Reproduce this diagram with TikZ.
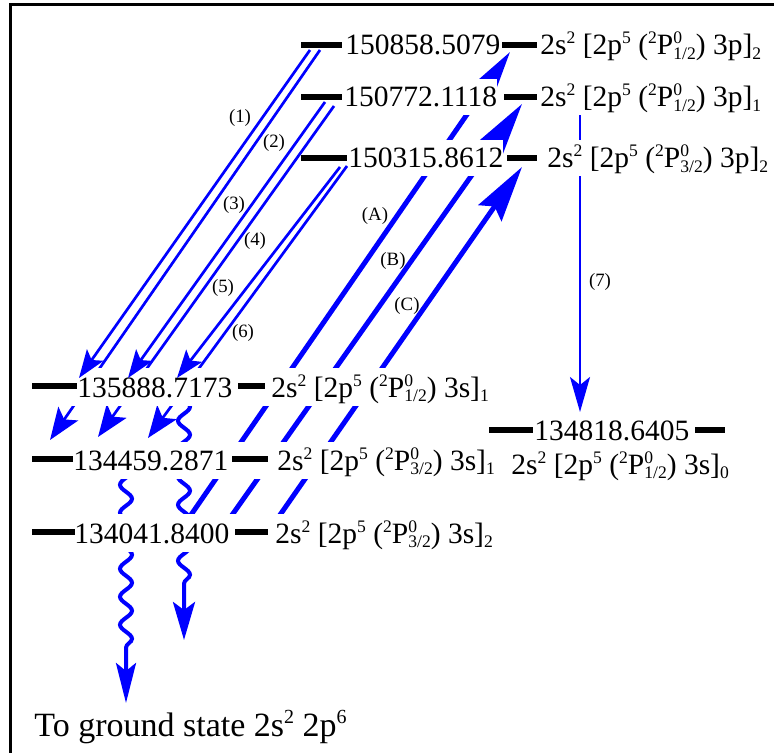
\documentclass[tikz,border=0pt]{standalone}
\usepackage{fontspec}
\setmainfont{Liberation Serif}
\usetikzlibrary{arrows.meta,decorations.pathmorphing}
\newcommand{\sups}[1]{\raisebox{5.5pt}{\fontsize{8.8}{10}\selectfont #1}}
\newcommand{\subs}[1]{\raisebox{-2.2pt}{\fontsize{8.8}{10}\selectfont #1}}
\newcommand{\Pterm}[1]{\sups{2}P\rlap{\sups{0}}\subs{#1}}
\newcommand{\cfg}[3]{2s\sups{2} [2p\sups{5} (\Pterm{#1}) #2]\subs{#3}}
\begin{document}
\begin{tikzpicture}[x=0.5pt, y=-0.5pt,
  bar/.style={line width=3pt, black},
  val/.style={anchor=base west, inner sep=0pt, text height=14pt, text depth=4pt, font=\fontsize{14.75}{16}\selectfont},
  wval/.style={val, fill=white},
  num/.style={font=\fontsize{9.4}{10}\selectfont, inner sep=0pt},
  thinarrow/.style={blue, line width=1.35pt, -{Stealth[length=14pt,width=10pt,inset=3pt]}},
  thinarrowb/.style={blue, line width=1.35pt, -{Stealth[length=16pt,width=12pt,inset=3.5pt]}},
  thickarrow/.style={blue, line width=2.5pt, -{Stealth[length=28pt,width=14pt,inset=4pt]}},
  vertarrow/.style={blue, line width=1.2pt, -{Stealth[length=17.5pt,width=10pt,inset=4pt]}},
  wavyarrow/.style={blue, line width=2pt, decorate, decoration={snake, amplitude=3pt, segment length=14pt, post length=#1}},
  rowfill/.style={fill=white}
]
\useasboundingbox (0,0) rectangle (774,753);
% frame
\draw[line width=1.4pt] (774,4.7) -- (10.7,4.7) -- (10.7,753);

% top row 150858
\node[wval] (v1) at (345,55) {150858.5079};
\node[wval] (c1) at (540,55) {\cfg{1/2}{3p}{2}};
\draw[bar] (301,45) -- (342,45);
\draw[bar] (502,45) -- (537,45);

% coordinates of arrow ends
\coordinate (r1s) at (320,50); \coordinate (r1e) at (50,440);
\coordinate (r2s) at (334,106); \coordinate (r2e) at (98,437);
\coordinate (r3s) at (347,166); \coordinate (r3e) at (148,438);
\coordinate (l1s) at (310,50); \coordinate (l1e) at (79,378);
\coordinate (l2s) at (325,102); \coordinate (l2e) at (128,378);
\coordinate (l3s) at (340,167); \coordinate (l3e) at (177,378);
\coordinate (As) at (184,525); \coordinate (Ae) at (510,52);
\coordinate (Bs) at (225,525); \coordinate (Be) at (522,104);
\coordinate (Cs) at (273,525); \coordinate (Ce) at (522,167);
\coordinate (s7) at (580,100); \coordinate (e7) at (580,412);
\coordinate (w1s) at (126,462); \coordinate (w1e) at (126,703);
\coordinate (w2s) at (184,398); \coordinate (w2e) at (184,640);

% arrows passing behind text
\draw[thinarrowb] (r1s) -- (r1e);
\draw[thinarrowb] (r2s) -- (r2e);
\draw[thinarrowb] (r3s) -- (r3e);
\draw[thickarrow] (As) -- (Ae);
\draw[thickarrow] (Bs) -- (Be);
\draw[thickarrow] (Cs) -- (Ce);
\draw[vertarrow] (s7) -- (e7);
\draw[wavyarrow=25pt, -{Stealth[length=20pt,width=10pt,inset=4pt]}] (w1s) -- (w1e);
\draw[wavyarrow=23.5pt, -{Stealth[length=19pt,width=11pt,inset=4pt]}] (w2s) -- (w2e);

% row 150772
\node[wval] (v2) at (344,107) {150772.1118};
\node[wval] (c2) at (540,107) {\cfg{1/2}{3p}{1}};
\draw[bar] (301,97) -- (342,97);
\draw[bar] (504,97) -- (537,97);

% row 150315
\node[wval] (v3) at (348,168) {150315.8612};
\node[wval] (c3) at (547,168) {\cfg{3/2}{3p}{2}};
\draw[bar] (301,158) -- (347,158);
\draw[bar] (507,158) -- (537,158);

% row 135888
\fill[rowfill] (30,368) rectangle (500,406);
\node[val] (v4) at (77,397) {135888.7173};
\node[val] (c4) at (271,397) {\cfg{1/2}{3s}{1}};
\draw[bar] (32,386) -- (77,386);
\draw[bar] (238,386) -- (265,386);

% row 134459
\fill[rowfill] (30,442) rectangle (500,479);
\node[val] (v5) at (73,470) {134459.2871};
\node[val] (c5) at (277,470) {\cfg{3/2}{3s}{1}};
\draw[bar] (32,459) -- (73,459);
\draw[bar] (232,459) -- (268,459);

% row 134041
\fill[rowfill] (30,514) rectangle (500,552);
\node[val] (v6) at (74,543) {134041.8400};
\node[val] (c6) at (275,543) {\cfg{3/2}{3s}{2}};
\draw[bar] (32,532) -- (75,532);
\draw[bar] (235,532) -- (268,532);

% row 134818
\node[val] (v7) at (534,440) {134818.6405};
\node[val] (c7) at (511,474) {\cfg{1/2}{3s}{0}};
\draw[bar] (489,430) -- (533,430);
\draw[bar] (695,430) -- (725,430);

% arrows on top
\draw[thinarrow] (l1s) -- (l1e);
\draw[thinarrow] (l2s) -- (l2e);
\draw[thinarrow] (l3s) -- (l3e);

% small labels
\node[num] (n1) at (240,118) {(1)};
\node[num] (n2) at (274,143) {(2)};
\node[num] (n3) at (234,205) {(3)};
\node[num] (n4) at (255,241) {(4)};
\node[num] (n5) at (223,288) {(5)};
\node[num] (n6) at (243,333) {(6)};
\node[num] (n7) at (600,282) {(7)};
\node[num] (nA) at (375,216) {(A)};
\node[num] (nB) at (393,261) {(B)};
\node[num] (nC) at (407,306) {(C)};

% ground state
\node[anchor=base west, inner sep=0pt, font=\fontsize{17}{19}\selectfont] (gs) at (34,736)
  {To ground state 2s\raisebox{6.5pt}{\fontsize{10}{11}\selectfont 2} 2p\raisebox{6.5pt}{\fontsize{10}{11}\selectfont 6}};
\end{tikzpicture}
\end{document}
